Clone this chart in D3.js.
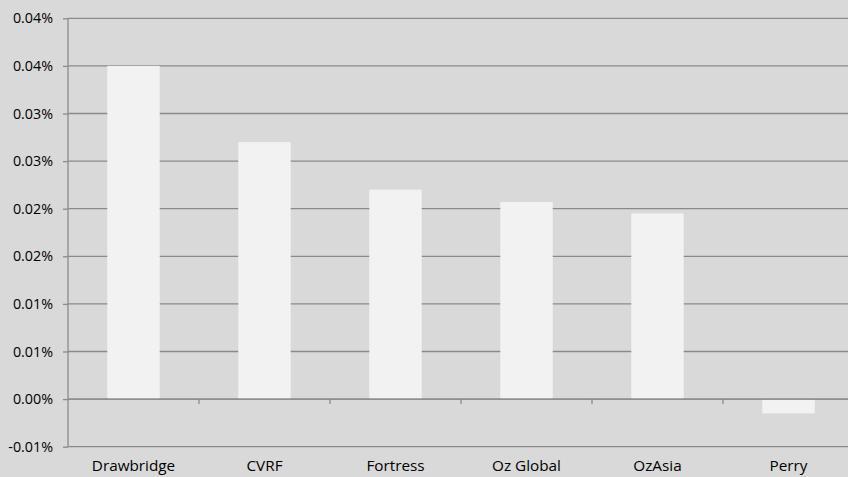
<!DOCTYPE html>
<html>
<head>
<meta charset="utf-8">
<script src="https://cdn.jsdelivr.net/npm/d3@7"></script>
<style>
  html, body { margin: 0; padding: 0; background: #d9d9d9; }
  svg { display: block; }
  text { font-family: "Open Sans", sans-serif; fill: #000; }
</style>
</head>
<body>
<svg id="chart" width="848" height="477"></svg>
<script>
// values in percent
var funds = ["Drawbridge", "CVRF", "Fortress", "Oz Global", "OzAsia", "Perry"];
var returns = [0.0350, 0.0270, 0.0220, 0.0207, 0.0195, -0.0015];

// axis steps and the labels as they were shown (rounded to 2 dp)
var tickValues = [-0.005, 0, 0.005, 0.010, 0.015, 0.020, 0.025, 0.030, 0.035, 0.040];
var tickLabels = ["-0.01%", "0.00%", "0.01%", "0.01%", "0.02%", "0.02%", "0.03%", "0.03%", "0.04%", "0.04%"];

var svg = d3.select("#chart");
var margin = {left: 68, top: 18.3};
var plotW = 786, plotH = 428.4;

svg.append("rect")
    .attr("width", 848).attr("height", 477)
    .attr("fill", "#d9d9d9");

var g = svg.append("g")
    .attr("transform", "translate(" + margin.left + "," + margin.top + ")");

var x = d3.scaleBand()
    .domain(funds)
    .range([0, plotW])
    .paddingInner(0.6)
    .paddingOuter(0.3);

var y = d3.scaleLinear()
    .domain([-0.005, 0.040])
    .range([plotH, 0]);

// gridlines
g.append("g")
    .selectAll("line")
    .data(tickValues)
    .enter().append("line")
    .attr("x1", 0).attr("x2", plotW)
    .attr("y1", function(d) { return y(d); })
    .attr("y2", function(d) { return y(d); })
    .attr("stroke", "#8a8a8a")
    .attr("stroke-width", 1.3);

// bars
g.append("g")
    .selectAll("rect")
    .data(returns)
    .enter().append("rect")
    .attr("x", function(d, i) { return x(funds[i]); })
    .attr("width", x.bandwidth())
    .attr("y", function(d) { return d >= 0 ? y(d) : y(0) + 0.7; })
    .attr("height", function(d) { return d >= 0 ? y(0) - y(d) - 0.7 : y(d) - y(0) - 0.7; })
    .attr("fill", "#f2f2f2");

// y axis
var yAxis = d3.axisLeft(y)
    .tickValues(tickValues)
    .tickFormat(function(d, i) { return tickLabels[i]; })
    .tickSize(5)
    .tickPadding(10);

var ya = g.append("g").call(yAxis);
ya.select(".domain").attr("stroke", "#8a8a8a").attr("stroke-width", 1.3)
    .attr("d", "M0," + y(-0.005) + "V" + y(0.040));
ya.selectAll(".tick line").attr("stroke", "#8a8a8a").attr("stroke-width", 1.3);
ya.selectAll(".tick text")
    .style("font-family", "'Open Sans', sans-serif")
    .style("font-size", "14.3px")
    .attr("fill", "#000");

// zero axis with boundary ticks
var step = plotW / funds.length;
var zero = g.append("g").attr("transform", "translate(0," + y(0) + ")");
zero.append("line")
    .attr("x1", 0).attr("x2", plotW)
    .attr("stroke", "#8a8a8a").attr("stroke-width", 1.3);
zero.selectAll("line.tk")
    .data(d3.range(1, funds.length))
    .enter().append("line")
    .attr("class", "tk")
    .attr("x1", function(d) { return d * step; })
    .attr("x2", function(d) { return d * step; })
    .attr("y1", 0).attr("y2", 5)
    .attr("stroke", "#8a8a8a").attr("stroke-width", 1.3);

// category labels along the bottom
g.append("g")
    .selectAll("text")
    .data(funds)
    .enter().append("text")
    .attr("x", function(d) { return x(d) + x.bandwidth() / 2; })
    .attr("y", 453.2)
    .attr("text-anchor", "middle")
    .style("font-size", "15.3px")
    .text(function(d) { return d; });
</script>
</body>
</html>
